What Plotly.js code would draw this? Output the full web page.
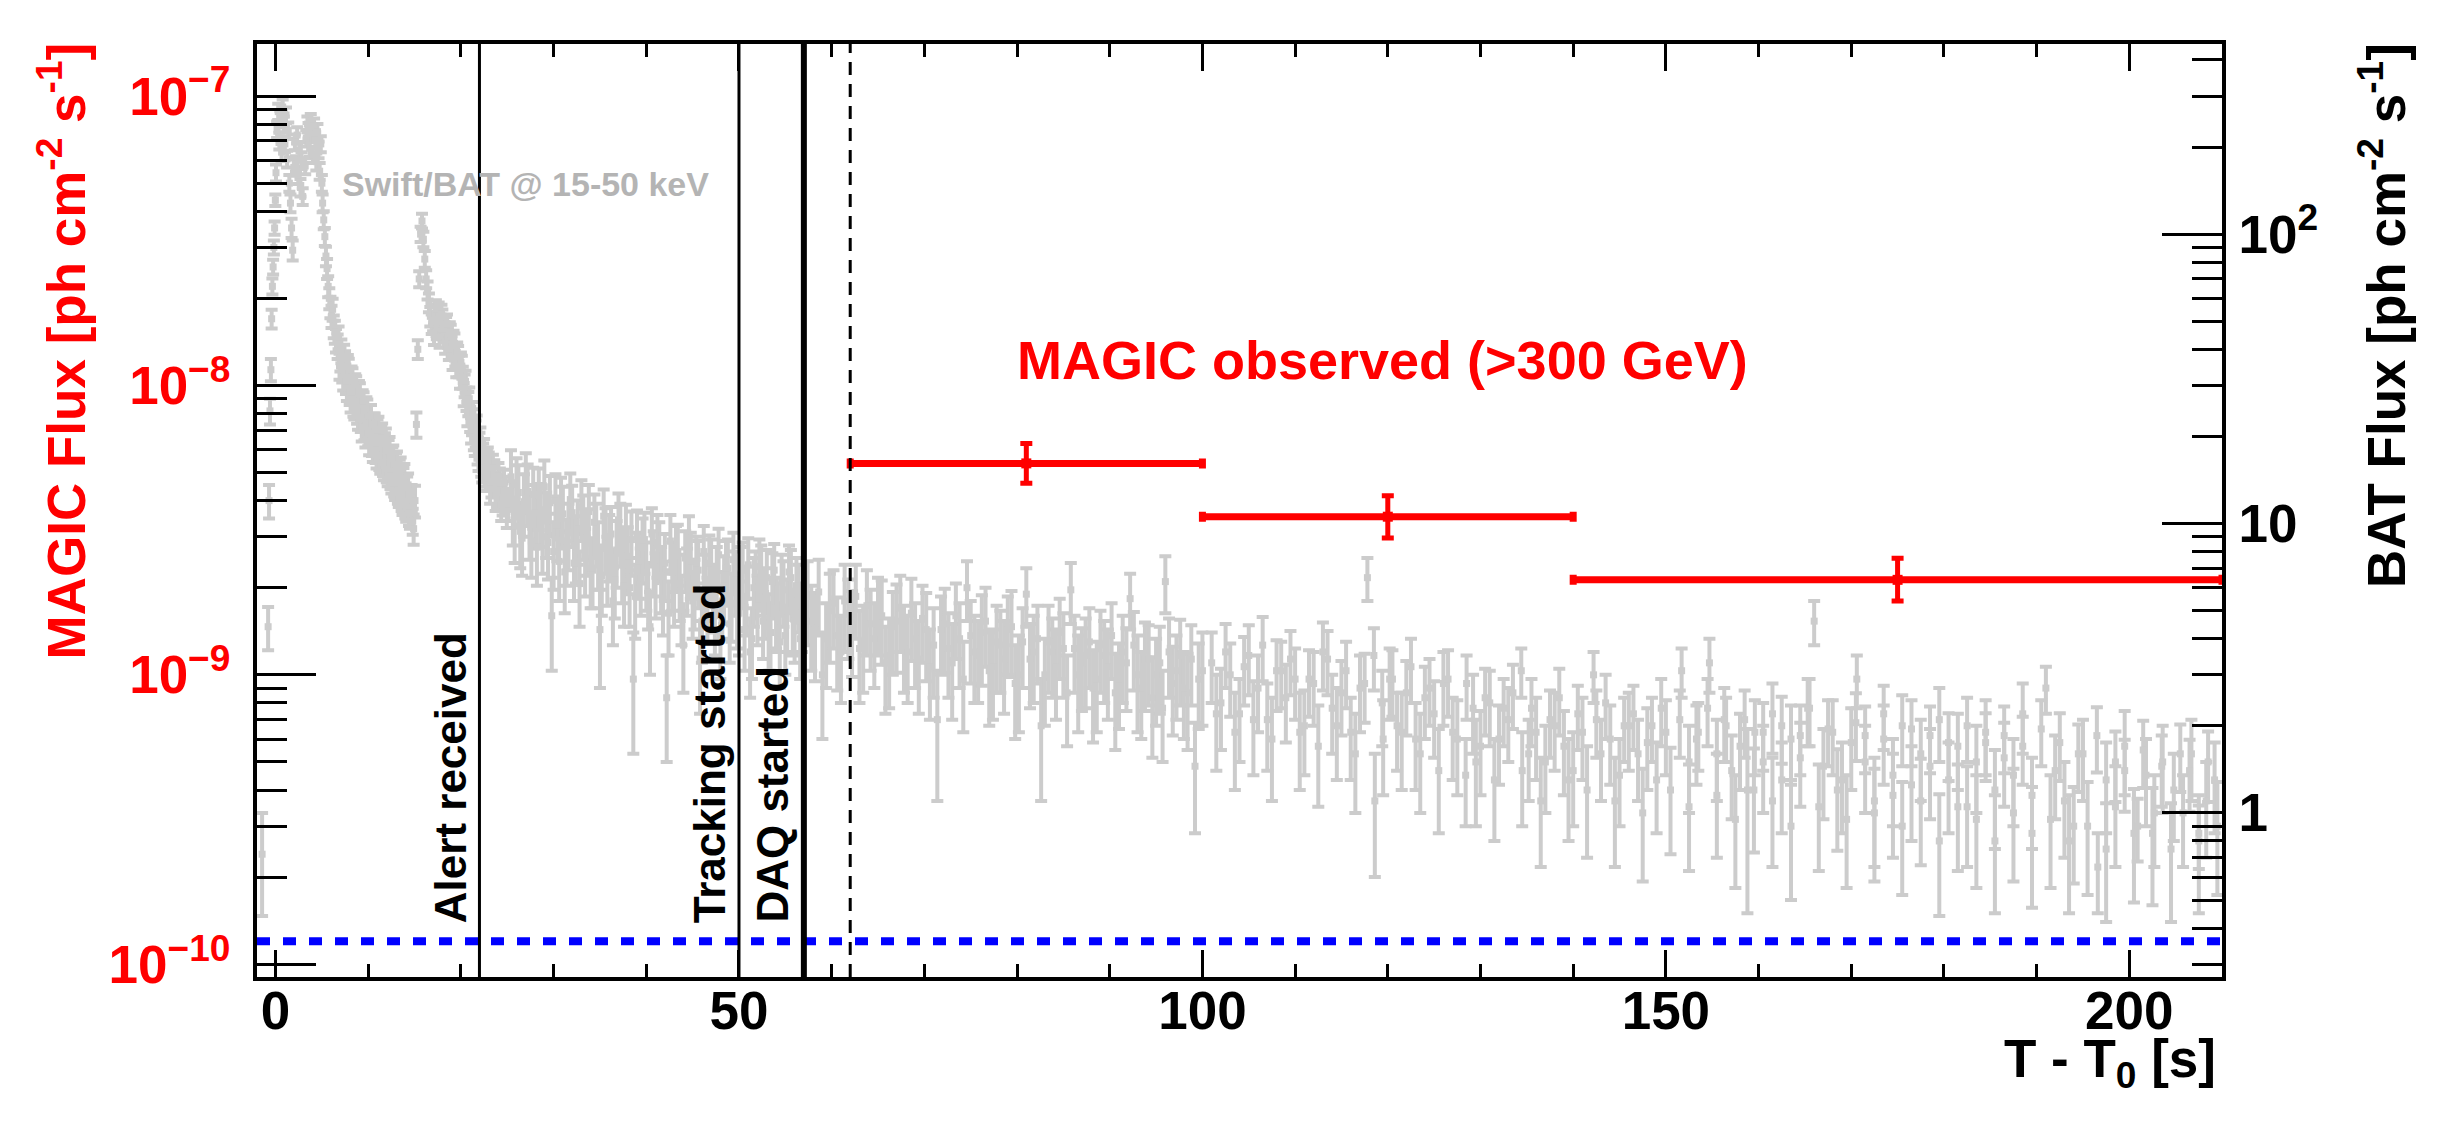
<!DOCTYPE html>
<html>
<head>
<meta charset="utf-8">
<script src="https://cdn.plot.ly/plotly-3.0.1.min.js"></script>
<style>
  html, body { margin: 0; padding: 0; background: #fff; }
  #chart { width: 2446px; height: 1121px; }
</style>
</head>
<body>
<div id="chart"></div>
<script>
// Swift/BAT 15-50 keV light curve (right axis, ph cm-2 s-1)
const batTimePrompt = [-1.45,-0.8,-0.7,-0.6,-0.5,-0.42,-0.34,-0.26,-0.18,-0.1,-0.02,
  0.05,0.17,0.29,0.41,0.53,0.65,0.77,0.89,1.01,1.13,1.25,1.37,1.49,1.61,1.73,1.85,1.97,2.09,2.21,2.33,2.45,2.57,2.69,2.81,2.93,
  3.2,3.32,3.44,3.56,3.68,3.8,3.92,4.04,4.16,4.28,4.4,4.52,4.64,4.76,4.88,5.0,
  5.08,5.2,5.32,5.44,5.56,5.68,5.8,5.92,6.04,6.16,6.28,6.4,6.52];
const batFluxPrompt = [0.72,4.4,12,24.5,34,51,66,77,90,105,131,
  163,230,265,210,250,192,275,240,205,258,182,228,150,128,105,88,170,208,175,220,160,195,145,180,135,
  172,215,240,228,198,245,222,188,236,212,178,226,196,165,205,150,
  128,112,98,84,76,66,60,56,52,55,48,46,43];
const batErrPrompt = [0.28,0.75,1.6,2.5,3,3.8,4.2,4.5,5,5.5,6,
  11,15,17,14,16,13,17,15,13,16,12,15,10,9,8,7,11,13,11,14,11,13,10,12,9,
  11,14,15,14,13,15,14,12,15,13,12,14,13,11,13,10,
  9,8,7,6.5,6,5.5,5,4.8,4.6,4.8,4.3,4.2,4];

const batTimeDecay = [6.7,6.9,7.1,7.3,7.5,7.7,7.9,8.1,8.3,8.5,8.7,8.9,9.1,9.3,9.5,9.7,9.9,10.1,10.3,10.5,
  10.7,10.9,11.1,11.3,11.5,11.7,11.9,12.1,12.3,12.5,12.7,12.9,13.1,13.3,13.5,13.7,13.9,14.1,14.3,14.5,14.7,14.9];
const batFluxDecay = [41,35,39.5,32,36,29.5,34,27,31.5,25.5,29.5,23.5,28,21.5,26,20.5,24.5,19.2,23.5,18.2,
  22,17.3,21.5,16.6,20.3,15.8,19.5,15,18.2,14.2,17,13.5,16.2,12.8,15.4,12,14.6,11.4,13.6,10.8,12.3,9.6];
const batErrDecay = [4,3.6,3.7,3.2,3.4,3,3.1,2.8,2.9,2.6,2.8,2.4,2.5,2.3,2.4,2.2,2.3,2,2.2,1.9,
  2,1.8,1.9,1.75,1.85,1.7,1.8,1.55,1.7,1.5,1.6,1.45,1.55,1.4,1.5,1.3,1.45,1.25,1.3,1.2,1.25,1.15];
const batTimeDecayB = [6.8,7.0,7.2,7.4,7.6,7.8,8.0,8.2,8.4,8.6,8.8,9.0,9.2,9.4,9.6,9.8,10.0,10.2,10.4,10.6,
  10.8,11.0,11.2,11.4,11.6,11.8,12.0,12.2,12.4,12.6,12.8,13.0,13.2,13.4,13.6,13.8,14.0,14.2,14.4,14.6,14.8];
const batFluxDecayB = [44,37,34,38,31,35,28.5,32,26,30,24.5,28.5,23,26.5,21.5,25,20.5,23.5,19,22,
  18,21,17,19.8,16.2,18.8,15.4,17.8,14.6,16.8,13.8,16,13,15.2,12.3,14.2,11.6,13.3,10.9,12.4,10.2];
const batErrDecayB = [4,3.5,3.3,3.5,3,3.2,2.8,2.9,2.6,2.8,2.4,2.6,2.3,2.4,2.1,2.3,2,2.2,1.9,2,
  1.8,1.9,1.7,1.8,1.6,1.7,1.5,1.65,1.45,1.55,1.4,1.5,1.3,1.4,1.25,1.35,1.2,1.25,1.1,1.2,1.05];

const batTimeFlare = [15.05,15.2,15.35,15.5,15.65,15.8,15.95,16.1,16.25,16.4,16.55,16.7,16.85,
  17.0,17.2,17.4,17.6,17.8,18.0,18.2,18.4,18.6,18.8,19.0,19.2,19.4,19.6,19.8,20.0,20.2,20.4,20.6,20.8,
  21.0,21.2,21.4,21.6,21.8,22.0,22.2,22.4,22.6,22.8,
  23.0,23.3,23.6,23.9,24.2,24.5,24.8,25.1];
const batFluxFlare = [12,22,40,70,100,111,96,82,70,64,58,52,49,
  50,53,47,54,49,51,46,48,44,46,41,43,38,39,35,36,32,30,27,26,
  23,22.5,20,20.5,18,18.6,16.4,17,15.2,16,
  15.8,14,14.8,13,13.8,12.2,12.9,11.7];
const batErrFlare = [1.5,2.2,3,4.5,6,6.5,6,5.5,5,4.6,4.3,4,3.8,
  3.8,4,3.7,4,3.8,3.9,3.6,3.7,3.5,3.6,3.3,3.4,3.1,3.2,3,3,2.8,2.7,2.5,2.5,
  2.3,2.3,2.1,2.2,2,2,1.9,1.9,1.8,1.85,
  1.8,1.7,1.75,1.6,1.7,1.55,1.6,1.5];
const batTimeFlareB = [17.1,17.3,17.5,17.7,17.9,18.1,18.3,18.5,18.7,18.9,19.1,19.3,19.5,19.7,19.9,20.1,20.3,20.5,20.7,20.9,
  21.1,21.3,21.5,21.7,21.9,22.1,22.3,22.5,22.7,22.9,23.15,23.45,23.75,24.05,24.35,24.65,24.95];
const batFluxFlareB = [45,55,50,44,53,47,42,49,40,45,37,42,35,38,32,35,28,31,24,27,
  21,24,19,21.5,17,19.5,15.5,17.8,14.5,16.6,13.2,15.6,12.5,14.6,11.6,13.8,11];
const batErrFlareB = [3.6,4.1,3.8,3.5,4,3.7,3.4,3.8,3.3,3.6,3.1,3.4,3,3.1,2.8,3,2.6,2.7,2.3,2.5,
  2.1,2.3,1.9,2.1,1.8,1.95,1.65,1.8,1.55,1.7,1.5,1.7,1.45,1.6,1.4,1.55,1.35];

const batTimeTail = [25.4,25.8,26.2,26.6,27.0,27.4,27.8,28.2,28.6,29.0,29.4,29.8,30.2,30.6,31.0,31.4,31.8,32.2,32.6,33.0,
  33.4,33.8,34.2,34.6,35.0,35.4,35.8,36.2,36.6,37.0,37.4,37.8,38.2,38.6,39.0,39.4,39.8,40.2,40.6,41.0,
  41.4,41.8,42.2,42.6,43.0,43.4,43.8,44.2,44.6,45.0,45.4,45.8,46.2,46.6,47.0,47.4,47.8,48.2,48.6,49.0,
  49.4,49.8,50.2,50.6,51.0,51.4,51.8,52.2,52.6,53.0,53.4,53.8,54.2,54.6,55.0,55.4,55.8,56.2,56.6];
const batFluxTail = [14.5,9.8,12.8,8.9,14.2,10.0,12.6,8.3,11.0,13.4,8.6,4.8,12.0,7.4,10.8,8.2,12.1,7.3,9.6,11.4,
  7.6,11.0,6.9,9.4,4.3,10.6,7.1,9.2,6.4,10.3,7.2,9.4,6.0,2.9,9.0,6.5,8.8,5.8,9.2,6.3,
  8.2,5.5,2.5,8.7,5.9,8.0,5.2,7.6,8.6,5.4,7.3,3.4,8.0,5.2,7.1,4.8,7.8,5.4,7.0,4.5,
  7.5,5.0,6.7,4.3,7.2,4.0,6.4,7.1,4.6,6.5,4.2,6.9,4.9,6.3,4.1,6.8,4.7,6.1,4.0];
const batErrTail = [3.4,2.5,3.1,2.3,3.3,2.5,3.0,2.2,2.7,3.1,2.2,1.7,2.8,2.0,2.6,2.1,2.8,1.9,2.4,2.7,
  2.0,2.6,1.8,2.3,1.6,2.5,1.9,2.2,1.7,2.4,1.9,2.2,1.6,1.3,2.1,1.7,2.1,1.5,2.1,1.6,
  1.9,1.4,1.0,2.0,1.5,1.9,1.4,1.8,2.0,1.4,1.7,1.2,1.8,1.3,1.7,1.3,1.8,1.4,1.7,1.2,
  1.8,1.3,1.6,1.2,1.7,1.1,1.6,1.7,1.2,1.6,1.1,1.6,1.3,1.5,1.1,1.6,1.2,1.5,1.1];
const batTimeTailB = [25.6,26.0,26.4,26.8,27.2,27.6,28.0,28.4,28.8,29.2,29.6,30.0,30.4,30.8,31.2,31.6,32.0,32.4,32.8,33.2,
  33.6,34.0,34.4,34.8,35.2,35.6,36.0,36.4,36.8,37.2,37.6,38.0,38.4,38.8,39.2,39.6,40.0,40.4,40.8,41.2,
  41.6,42.0,42.4,42.8,43.2,43.6,44.0,44.4,44.8,45.2,45.6,46.0,46.4,46.8,47.2,47.6,48.0,48.4,48.8,49.2,
  49.6,50.0,50.4,50.8,51.2,51.6,52.0,52.4,52.8,53.2,53.6,54.0,54.4,54.8,55.2,55.6,56.0,56.4,56.8];
const batFluxTailB = [11.2,13.6,9.4,11.9,12.9,8.7,10.9,12.5,9.0,10.2,11.8,8.0,9.9,11.6,6.8,9.3,10.9,8.4,6.2,10.0,
  8.9,7.0,10.1,8.0,6.6,9.0,8.5,5.4,8.1,9.4,6.1,7.7,8.8,5.6,7.4,8.3,6.8,4.4,7.5,8.6,
  6.6,7.3,4.9,6.8,7.8,6.2,3.8,6.5,7.4,5.9,6.9,4.6,6.2,7.3,5.7,6.6,4.1,6.1,7.0,5.3,
  6.4,4.9,6.9,5.6,3.6,6.0,5.2,6.7,5.5,4.4,6.3,5.1,3.9,5.9,5.0,6.5,4.6,5.7,4.9];
const batErrTailB = [2.8,3.2,2.4,2.9,3.1,2.2,2.7,3.0,2.3,2.6,2.8,2.1,2.5,2.8,1.9,2.4,2.6,2.2,1.8,2.5,
  2.3,1.9,2.5,2.1,1.8,2.3,2.2,1.6,2.1,2.3,1.7,2.0,2.2,1.6,1.9,2.1,1.8,1.4,1.9,2.1,
  1.7,1.9,1.4,1.8,2.0,1.6,1.2,1.7,1.9,1.6,1.8,1.3,1.6,1.8,1.5,1.7,1.2,1.6,1.8,1.4,
  1.6,1.4,1.7,1.5,1.1,1.6,1.4,1.7,1.5,1.3,1.6,1.4,1.2,1.5,1.4,1.6,1.3,1.5,1.3];

const batTimeLate = [57.4,58.2,59.0,59.8,60.6,61.4,62.2,63.0,63.8,64.6,65.4,66.2,67.0,67.8,68.6,69.4,70.2,71.0,71.4,72.2,
  73.0,73.8,74.6,75.4,76.2,77.0,77.8,78.6,79.4,80.2,81.0,81.8,82.6,83.4,84.2,85.0,85.8,86.6,87.4,88.2,
  89.0,89.8,90.6,91.4,92.2,93.0,93.8,94.6,95.4,96.0,96.8,97.6,98.4,99.2,100.0];
const batFluxLate = [5.6,4.3,3.0,5.0,4.1,5.4,4.4,3.7,5.2,4.0,4.8,3.5,4.6,3.9,4.9,3.4,4.3,3.8,2.1,4.5,
  3.3,4.0,6.0,3.6,4.2,3.1,3.9,3.4,4.4,3.0,5.7,3.6,2.0,3.9,3.2,3.7,5.9,3.0,3.5,2.7,
  3.8,3.2,2.6,3.6,5.5,3.0,3.4,2.5,3.3,6.3,2.8,3.5,2.6,1.45,3.1];
const batErrLate = [1.8,1.45,1.2,1.7,1.45,1.8,1.45,1.3,1.7,1.3,1.55,1.2,1.55,1.3,1.55,1.2,1.45,1.3,1.0,1.45,
  1.2,1.3,1.4,1.2,1.45,1.1,1.3,1.2,1.45,1.1,1.3,1.2,0.9,1.3,1.1,1.2,1.4,1.1,1.2,0.95,
  1.2,1.1,0.95,1.2,1.2,1.1,1.15,0.95,1.1,1.4,0.95,1.15,0.95,0.6,1.1];
const batTimeLateB = [57.8,58.6,59.4,60.2,61.0,61.8,62.6,63.4,64.2,65.0,65.8,66.6,67.4,68.2,69.0,69.8,70.6,71.8,72.6,73.4,
  74.2,75.0,75.8,76.6,77.4,78.2,79.0,79.8,80.6,81.4,82.2,83.0,83.8,84.6,85.4,86.2,87.0,87.8,88.6,89.4,
  90.2,91.0,91.8,92.6,93.4,94.2,95.0,95.7,96.4,97.2,98.0,98.8,99.6];
const batFluxLateB = [4.6,5.8,4.0,5.3,3.6,4.9,5.6,3.9,4.5,5.0,3.3,4.4,5.1,3.6,4.0,4.7,3.2,4.3,3.7,4.8,
  2.9,4.1,3.5,4.6,3.2,3.8,4.3,2.8,3.9,3.4,4.0,3.0,3.6,4.2,2.6,3.7,3.3,3.9,2.9,3.5,
  4.1,2.9,3.3,3.8,2.7,3.4,3.0,2.3,3.6,3.1,2.7,3.4,2.9];
const batErrLateB = [1.5,1.7,1.3,1.6,1.2,1.5,1.6,1.3,1.4,1.5,1.1,1.4,1.5,1.2,1.3,1.4,1.1,1.3,1.2,1.4,
  1.0,1.3,1.1,1.4,1.1,1.2,1.3,1.0,1.2,1.1,1.2,1.0,1.1,1.3,0.9,1.1,1.05,1.2,1.0,1.1,
  1.2,0.95,1.05,1.15,0.9,1.05,1.0,0.8,1.1,1.0,0.9,1.05,0.95];

const batTimeEnd = [101,102,103,104,105,106,107,108,109,110,111,112,113,114,115,116,117,117.8,118.6,119.4,
  120.2,121,122,123,124,125,126,127,128.4,129.2,130,131,132,133,134.4,135.2,136,137,138,139,
  140,141,142.2,143,144,145,146,147,148,149,150,151.7,152.5,153.3,154.7,155.5,156.3,157.1,158,158.8,
  159.6,160.5,161.5,162.5,163.5,164.5,165.3,166,167,168,169,170,170.6,171.5,172.5,173.5,174.5,175.5,176.5,177.5,
  178.5,179.5,180.5,181.5,182.5,183.5,184.5,185.5,186.5,187.5,188.5,189.5,191,192,193,194,195,196.6,197.5,198.5,
  199.5,200.9,201.8,202.7,203.6,204.8,205.8,206.7,207.5,208.3,209.2];
const batFluxEnd = [3.3,2.4,3.0,2.2,3.5,2.7,2.1,3.1,2.5,2.9,2.0,2.8,3.6,2.3,2.6,1.9,2.7,6.5,1.1,2.4,
  2.9,2.0,2.6,1.8,2.5,2.2,2.8,1.9,1.35,2.3,1.7,2.4,1.8,2.1,3.1,1.6,1.9,1.5,2.0,1.7,
  1.4,1.9,3.0,1.6,1.8,1.35,2.0,1.6,1.75,1.3,1.9,3.1,1.5,1.8,3.3,1.6,2.1,1.4,1.7,1.2,
  1.9,1.5,2.2,1.3,1.8,1.55,2.3,4.6,1.45,1.9,1.3,1.75,2.9,1.5,1.1,1.8,1.35,2.0,1.25,1.6,
  1.45,2.1,1.3,1.7,1.05,1.5,1.9,1.2,1.55,1.35,2.2,1.15,2.7,1.4,1.1,0.9,1.6,0.65,1.3,1.05,
  1.7,0.9,1.35,1.0,1.5,1.2,1.0,1.6,0.85,1.1,1.3];
const batErrEnd = [0.9,0.75,0.85,0.7,0.95,0.8,0.7,0.85,0.75,0.8,0.65,0.8,0.95,0.7,0.75,0.6,0.8,1.1,0.5,0.7,
  0.8,0.6,0.75,0.6,0.7,0.65,0.8,0.6,0.45,0.7,0.55,0.7,0.55,0.6,0.6,0.5,0.6,0.5,0.6,0.55,
  0.5,0.6,0.6,0.5,0.55,0.45,0.6,0.5,0.55,0.45,0.55,0.6,0.5,0.55,0.7,0.5,0.6,0.45,0.5,0.75,
  0.55,0.5,0.6,0.45,0.55,0.5,0.6,0.8,0.5,0.55,0.45,0.55,0.6,0.5,0.45,0.55,0.45,0.55,0.45,0.5,
  0.5,0.6,0.45,0.5,0.4,0.5,0.55,0.45,0.5,0.45,0.6,0.4,0.5,0.45,0.4,0.33,0.5,0.2,0.45,0.4,
  0.55,0.22,0.45,0.35,0.5,0.4,0.35,0.5,0.21,0.4,0.45];
const batTimeEndB = [101.5,102.5,103.5,104.5,105.5,106.5,107.5,108.5,109.5,110.5,111.5,112.5,113.5,114.5,115.5,116.5,117.5,118.5,119.5,120.5,
  121.5,122.5,123.5,124.5,125.5,126.5,127.5,128.5,129.5,130.5,131.5,132.5,133.5,134.5,135.5,136.5,137.5,138.5,139.5,140.5,
  141.5,142.5,143.5,144.5,145.5,146.5,147.5,148.5,149.5,150.5,151.5,152.5,153.5,154.5,155.5,156.5,157.5,158.5,159.5,160.5,
  161.5,162.5,163.5,164.5,165.5,166.5,167.5,168.5,169.5,170.5,171.5,172.5,173.5,174.5,175.5,176.5,177.5,178.5,179.5,180.5,
  181.5,182.5,183.5,184.5,185.5,186.5,187.5,188.5,189.5,190.5,191.5,192.5,193.5,194.5,195.5,196.5,197.5,198.5,199.5,200.5,
  201.5,202.5,203.5,204.5,205.5,206.5,207.5,208.5,209.5];
const batFluxEndB = [2.2,3.6,1.9,3.2,2.1,3.8,1.8,3.1,3.4,1.9,2.9,1.7,3.4,2.0,3.1,1.6,2.8,3.5,1.8,2.9,
  1.9,3.2,1.6,2.7,1.4,2.9,1.8,2.8,1.5,2.5,1.3,2.3,2.6,1.4,2.3,1.1,2.1,2.5,1.3,2.2,
  1.2,2.1,2.4,1.1,2.0,2.2,1.0,2.0,2.3,1.2,2.1,1.05,1.9,2.3,1.15,2.0,0.95,2.1,1.2,1.9,
  1.1,2.0,0.9,1.85,2.3,1.05,1.95,1.2,0.95,2.05,1.85,1.0,2.2,1.15,0.9,1.95,1.1,1.85,0.8,1.75,
  1.05,2.0,0.95,1.75,0.8,1.85,1.0,1.7,0.85,1.95,0.95,1.75,0.8,1.6,0.9,1.85,0.75,1.5,1.4,0.85,
  1.65,0.85,1.45,0.75,1.6,1.4,0.8,1.5,0.9];
const batErrEndB = [0.8,0.9,0.7,0.85,0.75,0.95,0.7,0.8,0.85,0.7,0.75,0.65,0.85,0.7,0.8,0.6,0.75,0.85,0.65,0.75,
  0.7,0.8,0.6,0.7,0.55,0.75,0.65,0.7,0.6,0.65,0.5,0.6,0.65,0.5,0.6,0.45,0.55,0.65,0.5,0.55,
  0.5,0.55,0.6,0.45,0.5,0.55,0.42,0.5,0.6,0.48,0.55,0.42,0.5,0.6,0.45,0.5,0.4,0.55,0.47,0.5,
  0.45,0.52,0.4,0.5,0.6,0.42,0.5,0.46,0.4,0.54,0.48,0.42,0.55,0.45,0.38,0.5,0.44,0.48,0.36,0.46,
  0.42,0.5,0.4,0.46,0.35,0.48,0.42,0.45,0.38,0.5,0.4,0.46,0.35,0.42,0.38,0.47,0.33,0.41,0.39,0.36,
  0.43,0.37,0.4,0.33,0.42,0.39,0.35,0.41,0.38];

// MAGIC >300 GeV flux (left axis, ph cm-2 s-1)
const magicTime = [81, 120, 175];
const magicHalfBin = [19, 20, 35];
const magicFlux = [5.38e-9, 3.52e-9, 2.13e-9];
const magicErrUp = [0.92e-9, 0.64e-9, 0.40e-9];
const magicErrDown = [0.79e-9, 0.55e-9, 0.33e-9];

// timeline of the follow-up
const eventTimes = [22, 50, 57];
const eventLabels = ["Alert received", "Tracking started", "DAQ started"];
const magicStart = 62;
const sensitivityLevel = 1.2e-10;

const xRange = [-2, 210];
const xTickVals = [0, 50, 100, 150, 200];
const leftTickVals = [1e-10, 1e-9, 1e-8, 1e-7];
const leftTickText = ["10<sup>\u221210</sup>", "10<sup>\u22129</sup>", "10<sup>\u22128</sup>", "10<sup>\u22127</sup>"];
const rightTickVals = [1, 10, 100];
const rightTickText = ["1", "10", "10<sup>2</sup>"];

const FONT = "Liberation Sans, Arial, Helvetica, sans-serif";
const RED = "#ff0000";
const GREY = "#cccccc";

function boldFont(size, color) {
    return {family: FONT, size: size, color: color, weight: "bold"};
}

function batTrace() {
    const t = [].concat(batTimePrompt, batTimeDecay, batTimeDecayB, batTimeFlare, batTimeFlareB,
        batTimeTail, batTimeTailB, batTimeLate, batTimeLateB, batTimeEnd, batTimeEndB);
    const f = [].concat(batFluxPrompt, batFluxDecay, batFluxDecayB, batFluxFlare, batFluxFlareB,
        batFluxTail, batFluxTailB, batFluxLate, batFluxLateB, batFluxEnd, batFluxEndB);
    const e = [].concat(batErrPrompt, batErrDecay, batErrDecayB, batErrFlare, batErrFlareB,
        batErrTail, batErrTailB, batErrLate, batErrLateB, batErrEnd, batErrEndB);
    return {
        type: "scatter",
        mode: "markers",
        x: t,
        y: f,
        yaxis: "y2",
        marker: {symbol: "square", size: 7, color: GREY},
        error_y: {type: "data", array: e, color: GREY, thickness: 4, width: 6},
        hoverinfo: "skip"
    };
}

function sensitivityTrace() {
    return {
        type: "scatter",
        mode: "lines",
        x: xRange,
        y: [sensitivityLevel, sensitivityLevel],
        yaxis: "y",
        line: {color: "#0000ff", width: 8, dash: "13px,13px"},
        hoverinfo: "skip"
    };
}

function magicTrace() {
    return {
        type: "scatter",
        mode: "markers",
        x: magicTime,
        y: magicFlux,
        yaxis: "y",
        marker: {symbol: "square", size: 10, color: RED},
        error_x: {type: "data", array: magicHalfBin, color: RED, thickness: 7, width: 5},
        error_y: {type: "data", symmetric: false, array: magicErrUp, arrayminus: magicErrDown,
                  color: RED, thickness: 5, width: 6},
        hoverinfo: "skip"
    };
}

function buildShapes() {
    const shapes = eventTimes.map((t, i) => ({
        type: "line", xref: "x", yref: "paper", x0: t, x1: t, y0: 0, y1: 1,
        line: {color: "black", width: i === 2 ? 6 : 3}
    }));
    // start of the MAGIC data taking
    shapes.push({
        type: "line", xref: "x", yref: "paper", x0: magicStart, x1: magicStart, y0: 0, y1: 1,
        line: {color: "black", width: 3, dash: "13px,9px"}
    });
    return shapes;
}

function buildAnnotations() {
    const notes = eventLabels.map((label, i) => ({
        text: label, x: eventTimes[i], xref: "x", xanchor: "right", xshift: i === 2 ? -5 : -3,
        y: 0.056, yref: "paper", yanchor: "bottom", textangle: -90,
        showarrow: false, font: boldFont(44, "black")
    }));
    notes.push(
        {text: "MAGIC Flux [ph cm<sup>-2</sup> s<sup>-1</sup>]", xref: "paper", yref: "paper",
         x: -0.099, y: 0.671, xanchor: "center", yanchor: "middle", textangle: -90,
         showarrow: false, font: boldFont(53, RED)},
        {text: "BAT Flux [ph cm<sup>-2</sup> s<sup>-1</sup>]", xref: "paper", yref: "paper",
         x: 1.082, y: 0.7085, xanchor: "center", yanchor: "middle", textangle: -90,
         showarrow: false, font: boldFont(53, "black")},
        {text: "T - T<sub>0</sub> [s]", xref: "paper", yref: "paper",
         x: 0.998, y: -0.092, xanchor: "right", yanchor: "middle",
         showarrow: false, font: boldFont(53, "black")},
        {text: "MAGIC observed (>300 GeV)", xref: "paper", yref: "paper",
         x: 0.5726, y: 0.661, xanchor: "center", yanchor: "middle",
         showarrow: false, font: boldFont(54, RED)},
        {text: "Swift/BAT @ 15-50 keV", xref: "paper", yref: "paper",
         x: 0.042, y: 0.85, xanchor: "left", yanchor: "middle",
         showarrow: false, font: boldFont(34, "#b4b4b4")}
    );
    return notes;
}

function logAxis(range, vals, text, color, side, len, standoff) {
    return {
        type: "log",
        range: range,
        side: side,
        showgrid: false,
        zeroline: false,
        showline: true,
        linecolor: "black",
        linewidth: 4,
        ticks: "inside",
        ticklen: len,
        tickwidth: 3,
        tickcolor: "black",
        tickmode: "array",
        tickvals: vals,
        ticktext: text,
        ticklabelstandoff: standoff,
        tickfont: boldFont(53, color),
        minor: {ticks: "inside", ticklen: 30, tickwidth: 3, tickcolor: "black", tickmode: "linear", dtick: "D1", showgrid: false}
    };
}

function buildLayout() {
    const yaxis2 = logAxis([-0.567, 2.657], rightTickVals, rightTickText, "black", "right", 60, 2);
    yaxis2.overlaying = "y";
    return {
        width: 2446,
        height: 1121,
        margin: {l: 257, r: 224, t: 44, b: 144, pad: 0},
        paper_bgcolor: "white",
        plot_bgcolor: "white",
        showlegend: false,
        font: boldFont(44, "black"),
        xaxis: {
            range: xRange,
            showgrid: false,
            zeroline: false,
            showline: true,
            linecolor: "black",
            linewidth: 4,
            mirror: "ticks",
            ticks: "inside",
            ticklen: 27,
            tickwidth: 3,
            tickcolor: "black",
            tickmode: "array",
            tickvals: xTickVals,
            ticktext: xTickVals.map(String),
            ticklabelstandoff: -16,
            tickfont: boldFont(53, "black"),
            minor: {ticks: "inside", ticklen: 13, tickwidth: 3, tickcolor: "black", tickmode: "linear", tick0: 0, dtick: 10, showgrid: false}
        },
        yaxis: logAxis([-10.044, -6.820], leftTickVals, leftTickText, RED, "left", 59, 12),
        yaxis2: yaxis2,
        shapes: buildShapes(),
        annotations: buildAnnotations()
    };
}

Plotly.newPlot("chart", [batTrace(), sensitivityTrace(), magicTrace()], buildLayout(), {displayModeBar: false, staticPlot: true});
</script>
</body>
</html>
